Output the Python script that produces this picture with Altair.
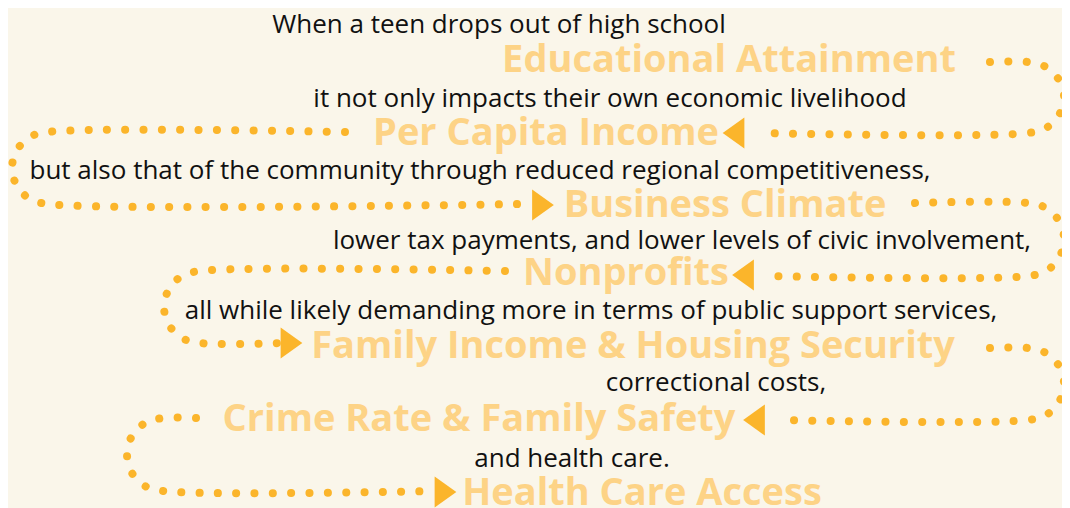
import altair as alt
import pandas as pd

# ---- text content ----
body_texts = [
    "When a teen drops out of high school",
    "it not only impacts their own economic livelihood",
    "but also that of the community through reduced regional competitiveness,",
    "lower tax payments, and lower levels of civic involvement,",
    "all while likely demanding more in terms of public support services,",
    "correctional costs,",
    "and health care.",
]
body_x = [499, 610, 480, 682, 591, 716, 572]
body_y = [33, 107, 179, 249, 319, 391, 467]

heading_texts = [
    "Educational Attainment",
    "Per Capita Income",
    "Business Climate",
    "Nonprofits",
    "Family Income & Housing Security",
    "Crime Rate & Family Safety",
    "Health Care Access",
]
heading_x = [729, 546, 725, 626, 633, 479, 642]
heading_y = [72, 145, 217, 285, 358, 431, 505]

# ---- dotted connector waypoints (path id, x, y) ----
path_ids = [1] * 9 + [2] * 9 + [3] * 9 + [4] * 9 + [5] * 9 + [6] * 9
path_x = [
    990, 1028, 1046, 1059, 1064, 1059, 1046, 1028, 760,
    345, 48, 30, 17, 12, 17, 30, 48, 522,
    915, 1028, 1046, 1059, 1064, 1059, 1046, 1028, 766,
    505, 200, 182, 169, 164, 169, 182, 200, 282,
    990, 1028, 1046, 1059, 1064, 1059, 1046, 1028, 780,
    196, 163, 145, 132, 127, 132, 145, 163, 436,
]
path_y = [
    62, 62, 67, 80, 97, 115, 128, 133, 133,
    132, 132, 137, 150, 168, 186, 199, 204, 204,
    203, 203, 208, 221, 239, 258, 271, 276, 276,
    271, 271, 276, 289, 307, 325, 338, 343, 343,
    348, 348, 353, 366, 384, 402, 415, 420, 420,
    418, 418, 423, 436, 454, 473, 486, 491, 491,
]

# ---- arrow heads ----
arrow_x = [733.5, 543, 743, 291.5, 754, 445.5]
arrow_y = [133, 205, 275, 343, 420, 492]
arrow_dir = ["L", "R", "L", "R", "L", "R"]

BG = "#faf6ea"
DOT = "#fbb52b"
HEAD = "#fdd386"

xs = alt.Scale(domain=[8, 1062], nice=False, zero=False)
ys = alt.Scale(domain=[8, 508], nice=False, zero=False, reverse=True)

paths = pd.DataFrame({"p": path_ids, "x": path_x, "y": path_y})
paths["i"] = range(len(paths))
body = pd.DataFrame({"t": body_texts, "x": body_x, "y": body_y})
heads = pd.DataFrame({"t": heading_texts, "x": heading_x, "y": heading_y})
arrows = pd.DataFrame({"x": arrow_x, "y": arrow_y, "d": arrow_dir})

X = alt.X("x:Q", scale=xs, axis=None)
Y = alt.Y("y:Q", scale=ys, axis=None)

dots = alt.Chart(paths).mark_line(
    interpolate="catmull-rom", color=DOT, strokeWidth=8,
    strokeDash=[0.1, 18.2], strokeCap="round"
).encode(x=X, y=Y, detail="p:N", order="i:Q")

heads_l = alt.Chart(arrows).mark_point(filled=True, opacity=1, color=DOT, size=961).encode(
    x=X, y=Y,
    shape=alt.Shape("d:N", scale=alt.Scale(
        domain=["L", "R"],
        range=["M0.7,-1L-0.7,0L0.7,1Z", "M-0.7,-1L0.7,0L-0.7,1Z"]), legend=None),
)

body_l = alt.Chart(body).mark_text(
    font="Open Sans", fontSize=26, color="#111111", align="center", baseline="alphabetic"
).encode(x=X, y=Y, text="t:N")

head_l = alt.Chart(heads).mark_text(
    font="Open Sans", fontSize=38, fontWeight="bold", color=HEAD, align="center", baseline="alphabetic"
).encode(x=X, y=Y, text="t:N")

chart = alt.layer(dots, heads_l, body_l, head_l).properties(
    width=1054, height=500, padding=0, autosize=alt.AutoSizeParams(type="none"),
    background=BG,
).configure_view(stroke=None)

chart.save("out.html", embed_options={"renderer": "svg", "actions": False})
